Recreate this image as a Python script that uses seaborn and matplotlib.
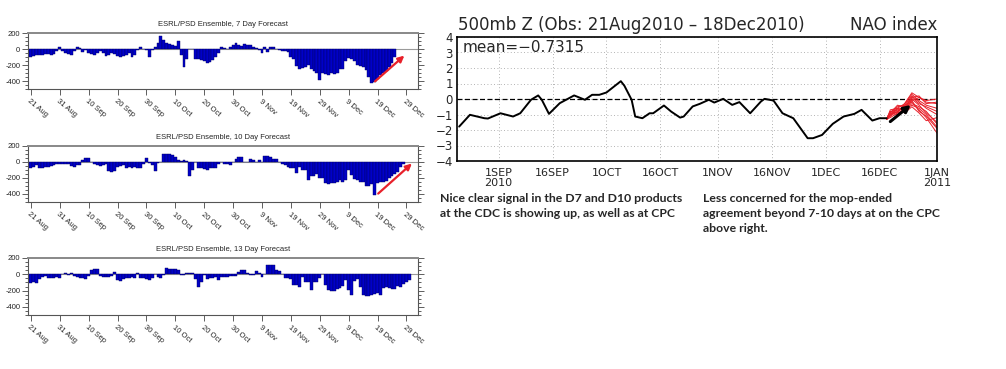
import numpy as np
import pandas as pd
import seaborn as sns
import matplotlib.pyplot as plt
from matplotlib.ticker import MultipleLocator

# ---- data (day offsets from 21 Aug 2010) ----
d7_vals = [
    -100, -90, -80, -80, -75, -65, -60, -70, -60, -30,
    20, -30, -50, -60, -70, -20, 30, 10, -40, -10,
    -50, -60, -70, -50, -30, -50, -90, -80, -50, -60,
    -90, -100, -90, -80, -50, -100, -70, -10, 20, 0,
    -10, -100, -10, 20, 80, 160, 110, 80, 60, 50,
    40, 100, -70, -230, -130, 0, 0, -130, -130, -140,
    -150, -170, -160, -140, -100, -50, 20, 10, 0, 30,
    50, 70, 50, 40, 60, 50, 45, 30, 10, -10,
    -50, 20, -40, 30, 20, 0, -10, -20, -30, -40,
    -100, -120, -210, -250, -240, -230, -200, -250, -280, -300,
    -390, -300, -310, -320, -300, -310, -300, -250, -250, -150,
    -110, -130, -150, -200, -210, -220, -260, -350, -420, -410,
    -380, -320, -300, -270, -230, -170, -100,
]
d10_vals = [
    -80, -60, -40, -70, -70, -60, -60, -50, -40, -20,
    -20, -30, -30, -20, -50, -60, -40, -40, 20, 50,
    50, 0, -30, -40, -50, -40, -30, -110, -120, -110,
    -60, -50, -40, -70, -60, -70, -60, -70, -70, -30,
    50, -10, -40, -110, -10, 0, 100, 100, 100, 90,
    60, 20, 10, 20, 10, -170, -100, 0, -80, -80,
    -90, -100, -80, -70, -70, -30, 0, -30, -30, -40,
    0, 40, 60, 60, 0, 0, 40, 30, 0, 30,
    0, 80, 70, 60, 40, 40, 0, -20, -40, -60,
    -80, -80, -140, -60, -100, -100, -220, -170, -170, -150,
    -200, -200, -260, -270, -260, -260, -250, -230, -250, -220,
    -100, -160, -210, -220, -250, -250, -300, -300, -280, -410,
    -260, -250, -250, -240, -200, -180, -150, -120, -60, -20,
]
d13_vals = [
    -110, -100, -110, -60, -30, -20, -40, -40, -40, -30,
    -40, 0, 10, -10, 10, -20, -30, -40, -50, -60,
    -20, 50, 60, 60, -20, -30, -30, -30, -20, 30,
    -70, -80, -60, -50, -40, -30, -50, 10, -40, -50,
    -60, -70, -40, 0, -30, -40, -10, 80, 70, 60,
    60, 50, -10, -10, 20, 20, 10, -60, -150, -100,
    -10, -60, -50, -40, -30, -70, -30, -30, -30, -20,
    -20, -20, 30, 50, 50, 20, -10, -10, 40, 20,
    -30, 0, 120, 120, 110, 50, 40, 0, -50, -40,
    -60, -130, -130, -160, -30, -100, -100, -190, -100, -100,
    -50, 0, -130, -190, -200, -210, -180, -170, -140, -70,
    -190, -250, -80, -60, -160, -250, -270, -270, -250, -240,
    -230, -260, -170, -160, -170, -180, -180, -140, -160, -120,
    -100, -70,
]
bar_tick_days = list(range(0, 131, 10))
bar_tick_labels = ['21 Aug', '31 Aug', '10 Sep', '20 Sep', '30 Sep', '10 Oct', '20 Oct',
                   '30 Oct', '9 Nov', '19 Nov', '29 Nov', '9 Dec', '19 Dec', '29 Dec']
bar_titles = ['ESRL/PSD Ensemble, 7 Day Forecast',
              'ESRL/PSD Ensemble, 10 Day Forecast',
              'ESRL/PSD Ensemble, 13 Day Forecast']

nao_days = [0, 3, 7, 8, 11.5, 15, 17, 20, 22, 23, 25, 28, 32, 35, 37, 39, 41, 45,
            46, 48, 49, 51, 53, 54, 57, 59, 61.5, 62.5, 65, 67, 69.5, 71, 73.5, 76,
            78, 81, 84, 85, 87.5, 90, 93, 97, 98.5, 101, 104, 107, 110, 112, 115,
            117, 119]
nao_vals = [-1.78, -1.02, -1.24, -1.26, -0.92, -1.13, -0.92, -0.05, 0.23, -0.05,
            -0.96, -0.27, 0.23, -0.05, 0.27, 0.27, 0.42, 1.15, 0.85, -0.05,
            -1.13, -1.24, -0.92, -0.92, -0.42, -0.81, -1.2, -1.13, -0.48, -0.31,
            -0.05, -0.23, 0.01, -0.38, -0.2, -0.92, -0.16, 0.01, -0.1, -0.92,
            -1.24, -2.53, -2.53, -2.32, -1.6, -1.13, -0.96, -0.7, -1.39, -1.24,
            -1.24]
fc_days = [119, 120, 122, 124, 126, 128, 130, 133]
fc_members = [
    [-1.3, -1.0, -0.6, -0.3, 0.4, 0.1, -0.2, -0.3],
    [-1.3, -0.9, -0.5, -0.4, 0.2, -0.2, -0.6, -1.0],
    [-1.3, -0.8, -0.7, -0.6, 0.0, -0.4, -0.9, -1.5],
    [-1.3, -1.1, -0.8, -0.5, -0.2, -0.7, -1.2, -2.2],
    [-1.3, -0.7, -0.6, -0.8, -0.1, 0.1, -0.1, 0.0],
    [-1.3, -1.2, -0.9, -0.7, -0.4, -0.6, -1.0, -1.8],
    [-1.3, -0.9, -0.4, -0.5, 0.1, -0.3, -0.5, -0.8],
    [-1.3, -1.0, -0.7, -0.9, -0.5, -0.9, -1.4, -1.2],
    [-1.3, -0.8, -0.9, -0.3, 0.3, -0.1, -0.4, -0.6],
    [-1.3, -1.1, -0.6, -0.7, -0.3, -0.5, -0.8, -1.6],
    [-1.3, -0.9, -1.0, -0.6, 0.1, 0.2, -0.3, -0.2],
    [-1.3, -1.0, -0.8, -0.4, -0.1, -0.8, -1.1, -1.9],
]
nao_tick_days = [11, 26, 41, 56, 72, 87, 102, 117, 133]
nao_tick_labels = ['1SEP\n2010', '16SEP', '1OCT', '16OCT', '1NOV', '16NOV',
                   '1DEC', '16DEC', '1JAN\n2011']

W, H = 1006, 369
BAR = '#0000c8'
EDGE = '#000060'
RED = '#e8202a'

sns.set_style('ticks')
plt.rcParams['font.family'] = ['Liberation Sans', 'DejaVu Sans']

fig = plt.figure(figsize=(W / 100, H / 100), dpi=100)


def px_axes(left, top, right, bottom):
    return fig.add_axes([left / W, 1 - bottom / H, (right - left) / W, (bottom - top) / H])


def bar_panel(ax, vals, title, arrow=None):
    df = pd.DataFrame({'day': np.arange(len(vals)), 'val': vals})
    ax.axhline(0, color='#9a9a9a', lw=0.8, zorder=0)
    sns.barplot(data=df, x='day', y='val', native_scale=True, width=1, color=BAR,
                saturation=1, edgecolor=EDGE, linewidth=0.3, errorbar=None, ax=ax)
    ax.set_xlim(-1, 134)
    ax.set_ylim(-500, 200)
    ax.set_yticks([-400, -200, 0, 200])
    ax.set_yticklabels(['-400', '-200', '0', '200'])
    ax.yaxis.set_minor_locator(MultipleLocator(50))
    ax.tick_params(axis='y', which='both', left=True, right=True, direction='out',
                   labelsize=5.5, width=0.6, pad=1.5, color='#444444')
    ax.tick_params(axis='y', which='major', length=4)
    ax.tick_params(axis='y', which='minor', length=2)
    ax.set_xticks(bar_tick_days)
    ax.set_xticklabels(bar_tick_labels, rotation=-40, ha='left', va='top',
                       rotation_mode='anchor', fontsize=5.5)
    ax.tick_params(axis='x', length=4, width=0.6, pad=2.5, color='#444444')
    ax.set_xlabel('')
    ax.set_ylabel('')
    ax.set_title(title, fontsize=5.5, pad=5)
    for s in ax.spines.values():
        s.set_color('#555555')
        s.set_linewidth(0.8)
    ax.spines['top'].set_color('#888888')
    ax.spines['top'].set_linewidth(1.4)
    if arrow:
        ax.annotate('', xy=arrow[1], xytext=arrow[0],
                    arrowprops=dict(arrowstyle='-|>', color=RED, lw=1.6, mutation_scale=9))


ax1 = px_axes(28, 33, 418, 89)
bar_panel(ax1, d7_vals, bar_titles[0], arrow=((118.4, -427), (130, -60)))
ax2 = px_axes(28, 146, 418, 202)
bar_panel(ax2, d10_vals, bar_titles[1], arrow=((119.5, -418), (132.6, 4)))
ax3 = px_axes(28, 258, 418, 315)
bar_panel(ax3, d13_vals, bar_titles[2])

# ---- CPC NAO panel ----
ax = px_axes(457, 37, 937, 161)
ax.grid(True, ls=(0, (1, 3)), color='#9a9a9a', lw=0.6)
ax.axhline(0, color='black', ls=(0, (4, 2)), lw=0.9)
for m in fc_members:
    sns.lineplot(x=fc_days, y=m, color=RED, lw=0.7, estimator=None, ax=ax)
sns.lineplot(x=nao_days, y=nao_vals, color='black', lw=1.4, estimator=None, ax=ax)
ax.annotate('', xy=(126.3, -0.27), xytext=(119.4, -1.57),
            arrowprops=dict(arrowstyle='-|>', color='black', lw=2.2, mutation_scale=10))
ax.set_xlim(-0.6, 133)
ax.set_ylim(-4, 4)
ax.set_yticks(range(-4, 5))
ax.set_xticks(nao_tick_days)
ax.set_xticklabels(nao_tick_labels, fontsize=8, family='DejaVu Sans', linespacing=1.0)
ax.set_yticklabels([str(v).replace('-', '\u2212') for v in range(-4, 5)],
                   fontsize=8.5, family='DejaVu Sans')
ax.tick_params(axis='x', length=0, pad=5)
ax.tick_params(axis='y', length=0, pad=3)
for s in ax.spines.values():
    s.set_color('black')
    s.set_linewidth(1.2)

fig.text(458 / W, 1 - 25 / H, '500mb Z (Obs: 21Aug2010 \u2013 18Dec2010)', fontsize=12,
         family='DejaVu Sans', va='center', ha='left')
fig.text(937 / W, 1 - 25 / H, 'NAO index', fontsize=12, family='DejaVu Sans',
         va='center', ha='right')
fig.text(463 / W, 1 - 47 / H, 'mean=\u22120.7315', fontsize=11, family='DejaVu Sans',
         va='center', ha='left')

fig.text(440 / W, 1 - 193 / H,
         'Nice clear signal in the D7 and D10 products\nat the CDC is showing up, as well as at CPC',
         fontsize=8.8, family='Lato', weight='bold', va='top', ha='left', linespacing=1.45)
fig.text(703 / W, 1 - 193 / H,
         'Less concerned for the mop-ended\nagreement beyond 7-10 days at on the CPC\nabove right.',
         fontsize=8.8, family='Lato', weight='bold', va='top', ha='left', linespacing=1.45)

fig.savefig('out.png', dpi=100)
